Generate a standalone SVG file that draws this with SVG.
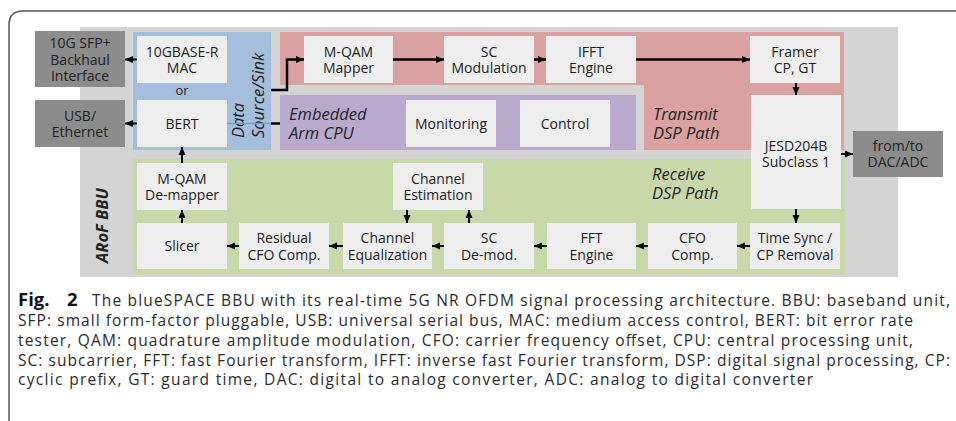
<svg xmlns="http://www.w3.org/2000/svg" width="956" height="421" viewBox="0 0 956 421">
<style>
  .lb{fill:#eeeeee}
  .dk{fill:#8c8c8c}
  .t{font-family:"Open Sans","Noto Sans","Liberation Sans",sans-serif;font-size:14px;fill:#222;text-anchor:middle}
  .it{font-family:"Open Sans","Noto Sans","Liberation Sans",sans-serif;font-size:16.5px;font-style:italic;fill:#222}
  .cap{font-family:"Open Sans","Noto Sans","Liberation Sans",sans-serif;font-size:15.5px;fill:#2b2b2b}
  .ar{stroke:#000;stroke-width:2;fill:none;marker-end:url(#ah)}
  .arw{stroke:#000;stroke-width:2.5;fill:none;marker-end:url(#ah)}
</style>
<defs>
  <marker id="ah" markerUnits="userSpaceOnUse" markerWidth="9" markerHeight="8" refX="8" refY="4" orient="auto">
    <path d="M0,0.5 L8,4 L0,7.5 Z" fill="#000"/>
  </marker>
</defs>
<rect width="956" height="421" fill="#fff"/>
<path d="M9,421 L9,25 Q9,11 23,11 L956,11" fill="none" stroke="#555" stroke-width="1.5"/>

<g id="background">
  <rect x="80" y="27" width="818" height="250" fill="#d4d4d4"/>
  <rect x="133" y="32" width="138" height="118" fill="#a5bedb"/>
  <path d="M280,32 L844,32 L844,150 L644,150 L644,85 L280,85 Z" fill="#d9a1a0"/>
  <rect x="280" y="95" width="356" height="55" fill="#b9a9cc"/>
  <rect x="133" y="159" width="712" height="115" fill="#c9d8a9"/>
  <text class="it" transform="translate(244,138) rotate(-90)">Data</text>
  <text class="it" transform="translate(264,138) rotate(-90)">Source/Sink</text>
  <text class="it" x="289" y="119.5">Embedded</text>
  <text class="it" x="289" y="138.5">Arm CPU</text>
  <text class="it" x="653" y="120">Transmit</text>
  <text class="it" x="653" y="139">DSP Path</text>
  <text class="it" x="652" y="180">Receive</text>
  <text class="it" x="652" y="199">DSP Path</text>
  <text class="it" style="font-weight:bold" transform="translate(108,263) rotate(-90)">ARoF BBU</text>
  <text class="t" x="182" y="95" style="font-size:13px">or</text>
</g>

<g id="connectors">
  <line class="ar" x1="137" y1="59.5" x2="125" y2="59.5"/>
  <line class="ar" x1="137" y1="123.5" x2="125" y2="123.5"/>
  <line x1="227" y1="123.5" x2="271" y2="123.5" stroke="#7f9cbf" stroke-width="1.5"/>
  <line x1="271" y1="123.5" x2="280" y2="123.5" stroke="#000" stroke-width="2.5"/>
  <polyline class="arw" points="271,90 287,90 287,59.5 304,59.5"/>
  <line class="arw" x1="393" y1="59.5" x2="444" y2="59.5"/>
  <line class="arw" x1="534" y1="59.5" x2="546" y2="59.5"/>
  <line class="arw" x1="636" y1="59.5" x2="750" y2="59.5"/>
  <line class="ar" x1="796" y1="83" x2="796" y2="95"/>
  <line class="ar" x1="841" y1="154" x2="853" y2="154"/>
  <line class="ar" x1="796" y1="209" x2="796" y2="223"/>
  <line class="ar" x1="750" y1="246" x2="737" y2="246"/>
  <line class="ar" x1="648" y1="246" x2="636" y2="246"/>
  <line class="ar" x1="547" y1="246" x2="534" y2="246"/>
  <line class="ar" x1="444" y1="246" x2="432" y2="246"/>
  <line class="ar" x1="343" y1="246" x2="329" y2="246"/>
  <line class="ar" x1="239" y1="246" x2="227" y2="246"/>
  <line class="ar" x1="182" y1="223" x2="182" y2="210"/>
  <line class="ar" x1="182" y1="163" x2="182" y2="147"/>
  <line class="ar" x1="407" y1="210" x2="407" y2="223"/>
  <line class="ar" x1="469" y1="223" x2="469" y2="210"/>
</g>

<g id="sfp"><rect class="dk" x="35" y="31" width="90" height="56"/>
  <text class="t" x="80" y="48">10G SFP+</text><text class="t" x="80" y="64.5">Backhaul</text><text class="t" x="80" y="81">Interface</text></g>
<g id="usb"><rect class="dk" x="35" y="100" width="90" height="47"/>
  <text class="t" x="80" y="120.5">USB/</text><text class="t" x="80" y="137">Ethernet</text></g>
<g id="mac"><rect class="lb" x="137" y="36" width="90" height="47"/>
  <text class="t" x="182" y="56.5">10GBASE-R</text><text class="t" x="182" y="73">MAC</text></g>
<g id="bert"><rect class="lb" x="137" y="100" width="90" height="47"/>
  <text class="t" x="182" y="128.5">BERT</text></g>
<g id="mapper"><rect class="lb" x="304" y="36" width="89" height="47"/>
  <text class="t" x="348.5" y="56.5">M-QAM</text><text class="t" x="348.5" y="73">Mapper</text></g>
<g id="scmod"><rect class="lb" x="444" y="36" width="90" height="47"/>
  <text class="t" x="489" y="56.5">SC</text><text class="t" x="489" y="73">Modulation</text></g>
<g id="ifft"><rect class="lb" x="546" y="36" width="90" height="47"/>
  <text class="t" x="591" y="56.5">IFFT</text><text class="t" x="591" y="73">Engine</text></g>
<g id="framer"><rect class="lb" x="750" y="36" width="90" height="47"/>
  <text class="t" x="795" y="56.5">Framer</text><text class="t" x="795" y="73">CP, GT</text></g>
<g id="jesd"><rect class="lb" x="751" y="95" width="90" height="114"/>
  <text class="t" x="796" y="150.5">JESD204B</text><text class="t" x="796" y="167">Subclass 1</text></g>
<g id="dacadc"><rect class="dk" x="853" y="131" width="90" height="46"/>
  <text class="t" x="898" y="150.5">from/to</text><text class="t" x="898" y="167">DAC/ADC</text></g>
<g id="monitoring"><rect class="lb" x="406" y="100" width="90" height="47"/>
  <text class="t" x="451" y="128.5">Monitoring</text></g>
<g id="control"><rect class="lb" x="520" y="100" width="90" height="47"/>
  <text class="t" x="565" y="128.5">Control</text></g>
<g id="demapper"><rect class="lb" x="137" y="163" width="90" height="47"/>
  <text class="t" x="182" y="183.5">M-QAM</text><text class="t" x="182" y="200">De-mapper</text></g>
<g id="chest"><rect class="lb" x="393" y="163" width="90" height="47"/>
  <text class="t" x="438" y="183.5">Channel</text><text class="t" x="438" y="200">Estimation</text></g>
<g id="slicer"><rect class="lb" x="137" y="223" width="90" height="46"/>
  <text class="t" x="182" y="251">Slicer</text></g>
<g id="rescfo"><rect class="lb" x="239" y="223" width="90" height="46"/>
  <text class="t" x="284" y="243">Residual</text><text class="t" x="284" y="259.5">CFO Comp.</text></g>
<g id="cheq"><rect class="lb" x="343" y="223" width="89" height="46"/>
  <text class="t" x="387.5" y="243">Channel</text><text class="t" x="387.5" y="259.5">Equalization</text></g>
<g id="scdemod"><rect class="lb" x="444" y="223" width="90" height="46"/>
  <text class="t" x="489" y="243">SC</text><text class="t" x="489" y="259.5">De-mod.</text></g>
<g id="fft"><rect class="lb" x="547" y="223" width="89" height="46"/>
  <text class="t" x="591.5" y="243">FFT</text><text class="t" x="591.5" y="259.5">Engine</text></g>
<g id="cfo"><rect class="lb" x="648" y="223" width="89" height="46"/>
  <text class="t" x="692.5" y="243">CFO</text><text class="t" x="692.5" y="259.5">Comp.</text></g>
<g id="timesync"><rect class="lb" x="750" y="223" width="90" height="46"/>
  <text class="t" x="795" y="243">Time Sync /</text><text class="t" x="795" y="259.5">CP Removal</text></g>

<g id="caption">
  <text class="cap" x="18" y="306" style="font-weight:bold;font-size:18.5px;fill:#111">Fig.<tspan x="67">2</tspan></text>
  <text class="cap" x="92" y="306" textLength="858" lengthAdjust="spacing">The blueSPACE BBU with its real-time 5G NR OFDM signal processing architecture. BBU: baseband unit,</text>
  <text class="cap" x="18" y="326" textLength="895" lengthAdjust="spacing">SFP: small form-factor pluggable, USB: universal serial bus, MAC: medium access control, BERT: bit error rate</text>
  <text class="cap" x="18" y="345.5" textLength="895" lengthAdjust="spacing">tester, QAM: quadrature amplitude modulation, CFO: carrier frequency offset, CPU: central processing unit,</text>
  <text class="cap" x="18" y="365.5" textLength="932" lengthAdjust="spacing">SC: subcarrier, FFT: fast Fourier transform, IFFT: inverse fast Fourier transform, DSP: digital signal processing, CP:</text>
  <text class="cap" x="18" y="385" textLength="795" lengthAdjust="spacing">cyclic prefix, GT: guard time, DAC: digital to analog converter, ADC: analog to digital converter</text>
</g>
</svg>
